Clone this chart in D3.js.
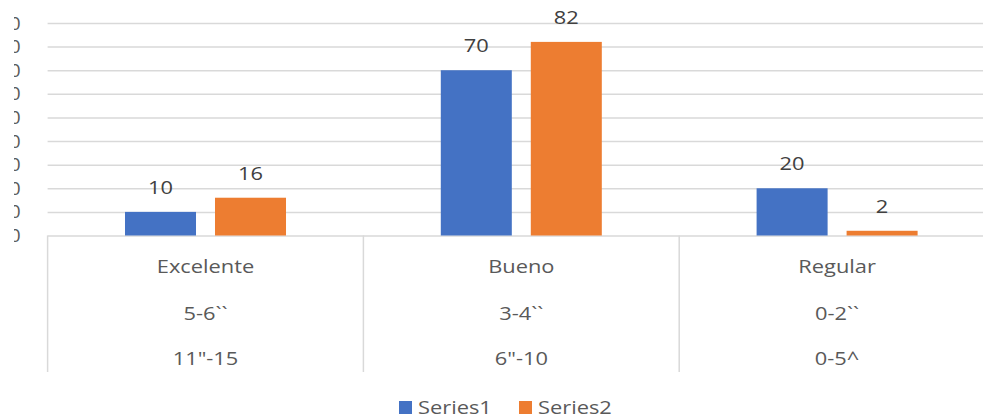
<!DOCTYPE html>
<html>
<head>
<meta charset="utf-8">
<script src="https://cdn.jsdelivr.net/npm/d3@7"></script>
<style>
  html, body { margin: 0; padding: 0; background: #fff; }
  svg { display: block; font-family: "Open Sans", sans-serif; }
</style>
</head>
<body>
<svg id="chart" width="983" height="420"></svg>
<script>
// Categories with their two extra label rows
const categories = ["Excelente", "Bueno", "Regular"];
const row2Labels = ["5-6``", "3-4``", "0-2``"];
const row3Labels = ["11\"-15", "6\"-10", "0-5^"];
const seriesNames = ["Series1", "Series2"];
const series1 = [10, 70, 20];
const series2 = [16, 82, 2];
const yTicks = [0, 10, 20, 30, 40, 50, 60, 70, 80, 90];

const colors = { Series1: "#4472C4", Series2: "#ED7D31" };
const gridColor = "#d9d9d9";
const textScaleX = 1.15;

const svg = d3.select("#chart");

const plotLeft = 47.6, plotRight = 995;
const plotTop = 23, plotBottom = 235.5;
const tableBottom = 372;

const x = d3.scaleBand().domain(categories).range([plotLeft, plotRight]).paddingInner(0).paddingOuter(0);
const xs = d3.scaleBand().domain(seriesNames).range([0, x.bandwidth()]).paddingInner(0.211).paddingOuter(0.86);
const y = d3.scaleLinear().domain([0, 90]).range([plotBottom, plotTop]);
const color = d3.scaleOrdinal().domain(seriesNames).range([colors.Series1, colors.Series2]);

// Horizontally widened text helper
function label(parent, tx, ty, str, size, fill, anchor) {
  return parent.append("g")
    .attr("transform", `translate(${tx},${ty}) scale(${textScaleX},1)`)
    .append("text")
    .attr("text-anchor", anchor || "middle")
    .attr("font-size", size)
    .attr("fill", fill)
    .text(str);
}

// Clip for the y tick labels (only their right edge shows)
svg.append("defs").append("clipPath").attr("id", "yclip")
  .append("rect").attr("x", 14).attr("y", 0).attr("width", 40).attr("height", 420);

// Gridlines from the y axis
const yAxis = svg.append("g")
  .attr("transform", `translate(${plotLeft},0)`)
  .call(d3.axisLeft(y).tickValues(yTicks).tickSize(-(plotRight - plotLeft)).tickPadding(27));
yAxis.select(".domain").remove();
yAxis.selectAll(".tick line").attr("stroke", gridColor).attr("stroke-width", 1.5);
yAxis.selectAll(".tick text")
  .attr("fill", "#595959")
  .attr("font-size", 19)
  .attr("font-family", "Open Sans, sans-serif");
yAxis.attr("clip-path", "url(#yclipAxis)");

// Clip the tick labels by the left clip region, gridlines stay whole
yAxis.selectAll(".tick").each(function () {
  const tick = d3.select(this);
  const t = tick.select("text");
  const holder = tick.append("g").attr("clip-path", "url(#ytextclip)");
  holder.node().appendChild(t.node());
});
svg.select("defs").append("clipPath").attr("id", "ytextclip")
  .attr("clipPathUnits", "userSpaceOnUse")
  .append("rect").attr("x", 14 - plotLeft).attr("y", -30).attr("width", 40).attr("height", 60);
yAxis.attr("clip-path", null);

// Category table lines
const table = svg.append("g");
const dividers = categories.map(c => x(c)).concat([x(categories[categories.length - 1]) + x.bandwidth()]);
table.selectAll("line").data(dividers).join("line")
  .attr("x1", d => d).attr("x2", d => d)
  .attr("y1", plotBottom).attr("y2", tableBottom)
  .attr("stroke", gridColor).attr("stroke-width", 1.5);

// Bars
const rows = categories.map((c, i) => ({ cat: c, values: [
  { key: "Series1", value: series1[i] },
  { key: "Series2", value: series2[i] }
]}));

const groups = svg.append("g").selectAll("g").data(rows).join("g")
  .attr("transform", d => `translate(${x(d.cat)},0)`);

groups.selectAll("rect").data(d => d.values).join("rect")
  .attr("x", d => xs(d.key))
  .attr("width", xs.bandwidth())
  .attr("y", d => y(d.value))
  .attr("height", d => y(0) - y(d.value))
  .attr("fill", d => color(d.key));

// Value labels
groups.each(function (d) {
  const g = d3.select(this);
  d.values.forEach(v => {
    label(g, xs(v.key) + xs.bandwidth() / 2, y(v.value) - 18, v.value, 19, "#404040");
  });
});

// Category labels (three rows)
categories.forEach((c, i) => {
  const cx = x(c) + x.bandwidth() / 2;
  label(svg, cx, 273, c, 19, "#595959");
  label(svg, cx, 320, row2Labels[i], 19, "#595959");
  label(svg, cx, 365, row3Labels[i], 19, "#595959");
});

// Legend
const legend = svg.append("g");
const legendItems = [{ key: "Series1", x: 399 }, { key: "Series2", x: 519 }];
legendItems.forEach(it => {
  legend.append("rect").attr("x", it.x).attr("y", 401).attr("width", 13).attr("height", 13).attr("fill", color(it.key));
  label(legend, it.x + 19, 414, it.key, 19, "#595959", "start");
});
</script>
</body>
</html>
